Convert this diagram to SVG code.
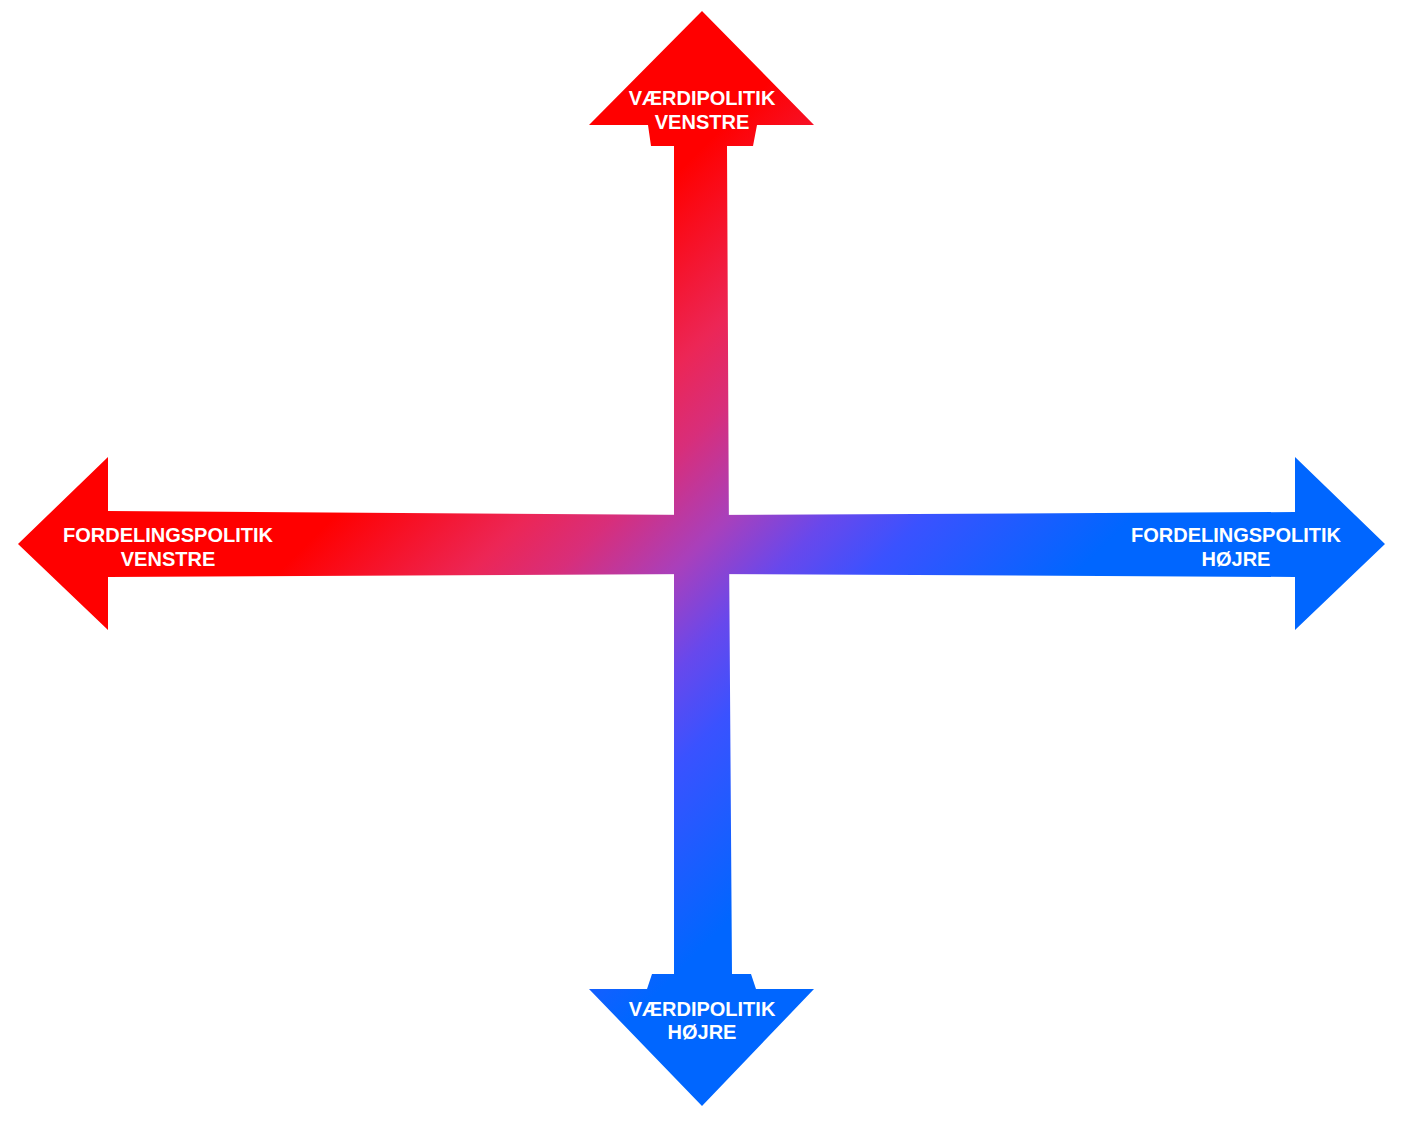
<svg xmlns="http://www.w3.org/2000/svg" width="1402" height="1122" viewBox="0 0 1402 1122">
<defs>
<linearGradient id="g" gradientUnits="userSpaceOnUse" x1="425" y1="425" x2="825" y2="825">
<stop offset="0" stop-color="#ff0000"/>
<stop offset="0.24" stop-color="#ec2656"/>
<stop offset="0.35" stop-color="#d82e7a"/>
<stop offset="0.495" stop-color="#a840bc"/>
<stop offset="0.62" stop-color="#6848ec"/>
<stop offset="0.74" stop-color="#3a52ff"/>
<stop offset="1" stop-color="#0066ff"/>
</linearGradient>
<style>
.a{fill:url(#g);}
.t{fill:#ffffff;font-family:"Liberation Sans",Arial,sans-serif;font-weight:bold;font-size:20px;text-anchor:middle;}
</style>
</defs>
<rect width="1402" height="1122" fill="#ffffff"/>
<g id="connectors">
<g id="arrow-up">
<polygon class="a" points="702,11 814,125 757,125 753,146 727,146 729,545 674,545 674,146 651,146 648,125 589,125"/>
<text class="t" x="702" y="105">VÆRDIPOLITIK</text>
<text class="t" x="702" y="128.5">VENSTRE</text>
</g>
<g id="arrow-down">
<polygon class="a" points="702,1106 589,989 647,989 652,974 674,974 674,544 729,544 732,974 751,974 756,989 814,989"/>
<text class="t" x="702" y="1016">VÆRDIPOLITIK</text>
<text class="t" x="702" y="1039">HØJRE</text>
</g>
<g id="arrow-left">
<polygon class="a" points="18,544 108,457 108,511 702,515 702,574 108,577 108,630"/>
<text class="t" x="168" y="542">FORDELINGSPOLITIK</text>
<text class="t" x="168" y="566">VENSTRE</text>
</g>
<g id="arrow-right">
<polygon class="a" points="1385,544 1295,630 1295,577 702,574 702,515 1295,512 1295,457"/>
<text class="t" x="1236" y="542">FORDELINGSPOLITIK</text>
<text class="t" x="1236" y="566">HØJRE</text>
</g>
</g>
</svg>
